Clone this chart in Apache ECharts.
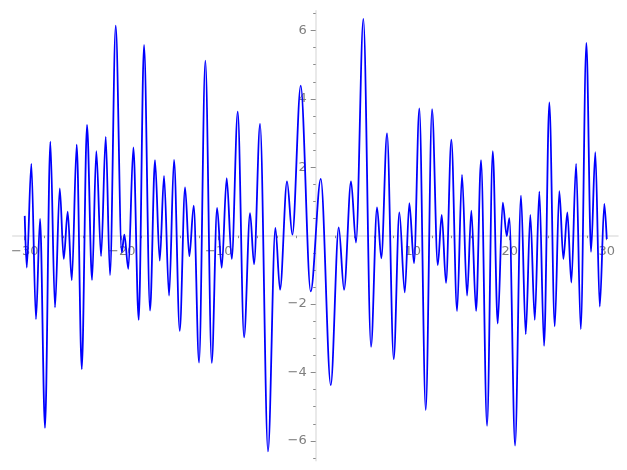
<!DOCTYPE html>
<html>
<head>
<meta charset="utf-8">
<script src="https://cdn.jsdelivr.net/npm/echarts@6/dist/echarts.min.js"></script>
<style>
  html, body { margin: 0; padding: 0; background: #fff; }
  #chart { width: 627px; height: 470px; }
</style>
</head>
<body>
<div id="chart"></div>
<script>
// turning points of the curve (x, y)
const curveX = [
  -30.00, -29.79, -29.32, -28.84, -28.42, -27.91, -27.36, -26.88, -26.39, -25.98,
  -25.57, -25.15, -24.64, -24.12, -23.58, -23.06, -22.62, -22.13, -21.65, -21.21,
  -20.62, -20.00, -19.73, -19.32, -18.80, -18.25, -17.70, -17.08, -16.57, -16.08,
  -15.64, -15.12, -14.61, -14.02, -13.47, -13.03, -12.58, -12.03, -11.38, -10.72,
  -10.17, -9.69, -9.18, -8.66, -8.04, -7.39, -6.77, -6.36, -5.74, -4.92,
  -4.16, -3.68, -2.96, -2.41, -1.55, -0.52, 0.52, 1.55, 2.37, 2.92,
  3.64, 4.15, 4.91, 5.70, 6.32, 6.76, 7.35, 8.04, 8.62, 9.18,
  9.65, 10.13, 10.68, 11.34, 11.99, 12.58, 12.99, 13.43, 13.98, 14.57,
  15.08, 15.60, 16.04, 16.53, 17.04, 17.66, 18.25, 18.76, 19.28, 19.69,
  19.96, 20.55, 21.16, 21.65, 22.12, 22.58, 23.05, 23.54, 24.08, 24.64,
  25.11, 25.53, 25.94, 26.35, 26.84, 27.32, 27.90, 28.38, 28.82, 29.28,
  29.75, 30.00
];
const curveY = [
  0.58, -0.93, 2.10, -2.44, 0.49, -5.62, 2.75, -2.10, 1.38, -0.68,
  0.70, -1.30, 2.66, -3.90, 3.24, -1.29, 2.47, -0.60, 2.89, -1.15,
  6.14, -0.49, 0.03, -0.97, 2.58, -2.46, 5.58, -2.19, 2.21, -0.73,
  1.75, -1.75, 2.22, -2.78, 1.41, -0.60, 0.88, -3.71, 5.12, -3.72,
  0.81, -0.94, 1.68, -0.68, 3.63, -2.97, 0.66, -0.83, 3.27, -6.31,
  0.23, -1.58, 1.59, 0.03, 4.39, -1.63, 1.66, -4.37, 0.24, -1.58,
  1.59, -0.20, 6.34, -3.25, 0.83, -0.66, 2.99, -3.61, 0.68, -1.66,
  0.95, -0.80, 3.72, -5.10, 3.70, -0.86, 0.61, -1.38, 2.81, -2.20,
  1.78, -1.75, 0.73, -2.20, 2.21, -5.56, 2.47, -2.57, 0.97, -0.01,
  0.51, -6.14, 1.17, -2.88, 0.61, -2.46, 1.29, -3.22, 3.90, -2.65,
  1.30, -0.68, 0.68, -1.37, 2.10, -2.73, 5.64, -0.47, 2.44, -2.07,
  0.93, -0.10
];

// ticks
const xMajorTicks = [-30, -20, -10, 10, 20, 30];
const xMinorTicks = [-28, -26, -24, -22, -18, -16, -14, -12, -8, -6, -4, -2,
                     2, 4, 6, 8, 12, 14, 16, 18, 22, 24, 26, 28];
const yMajorTicks = [-6, -4, -2, 2, 4, 6];
const yMinorTicks = [-6.5, -5.5, -5, -4.5, -3.5, -3, -2.5, -1.5, -1, -0.5,
                     0.5, 1, 1.5, 2.5, 3, 3.5, 4.5, 5, 5.5, 6.5];

const xRange = [-31.24, 31.16];
const yRange = [-6.58, 6.58];

const points = curveX.map((x, i) => [x, curveY[i]]);

const fmt = v => (v < 0 ? '\u2212' : '') + Math.abs(v);
const labelStyle = { color: '#7f7f7f', fontSize: 13, fontFamily: 'DejaVu Sans' };
const tickStyle = { color: '#8a8a8a', width: 1 };
const box = { left: 12.7, right: 9, top: 10.7, bottom: 9.3, outerBoundsMode: 'none', containLabel: false };

// axes cross at zero: shift them in from the grid edges
const xAxisShift = -225;   // bottom edge up to y = 0
const yAxisShift = -303;   // left edge over to x = 0

// grid 0: axis lines, major ticks, labels, the curve
// grid 1: same box, only the minor ticks
const chart = echarts.init(document.getElementById('chart'));
chart.setOption({
  animation: false,
  backgroundColor: '#ffffff',
  grid: [box, box],
  xAxis: [
    {
      gridIndex: 0, type: 'value', min: xRange[0], max: xRange[1],
      position: 'bottom', offset: xAxisShift,
      axisLine: { show: true, onZero: false, lineStyle: { color: '#e2e2e2', width: 1.5 } },
      axisTick: { show: true, customValues: xMajorTicks, length: 4.5, lineStyle: tickStyle },
      axisLabel: { show: true, customValues: xMajorTicks, formatter: fmt, margin: 9, hideOverlap: false, ...labelStyle },
      splitLine: { show: false }
    },
    {
      gridIndex: 1, type: 'value', min: xRange[0], max: xRange[1],
      position: 'bottom', offset: xAxisShift,
      axisLine: { show: false, onZero: false },
      axisTick: { show: true, customValues: xMinorTicks, length: 2.5, lineStyle: tickStyle },
      axisLabel: { show: false },
      splitLine: { show: false }
    }
  ],
  yAxis: [
    {
      gridIndex: 0, type: 'value', min: yRange[0], max: yRange[1],
      position: 'left', offset: yAxisShift,
      axisLine: { show: true, onZero: false, lineStyle: { color: '#e2e2e2', width: 1.5 } },
      axisTick: { show: true, customValues: yMajorTicks, length: 5, lineStyle: tickStyle },
      axisLabel: { show: true, customValues: yMajorTicks, formatter: fmt, margin: 9, hideOverlap: false, ...labelStyle },
      splitLine: { show: false }
    },
    {
      gridIndex: 1, type: 'value', min: yRange[0], max: yRange[1],
      position: 'left', offset: yAxisShift,
      axisLine: { show: false, onZero: false },
      axisTick: { show: true, customValues: yMinorTicks, length: 2.5, lineStyle: tickStyle },
      axisLabel: { show: false },
      splitLine: { show: false }
    }
  ],
  series: [
    {
      type: 'line',
      xAxisIndex: 0,
      yAxisIndex: 0,
      data: points,
      showSymbol: false,
      smooth: 0.33,
      smoothMonotone: 'x',
      lineStyle: { color: '#0000ff', width: 1.8 },
      z: 5
    }
  ]
});
</script>
</body>
</html>
